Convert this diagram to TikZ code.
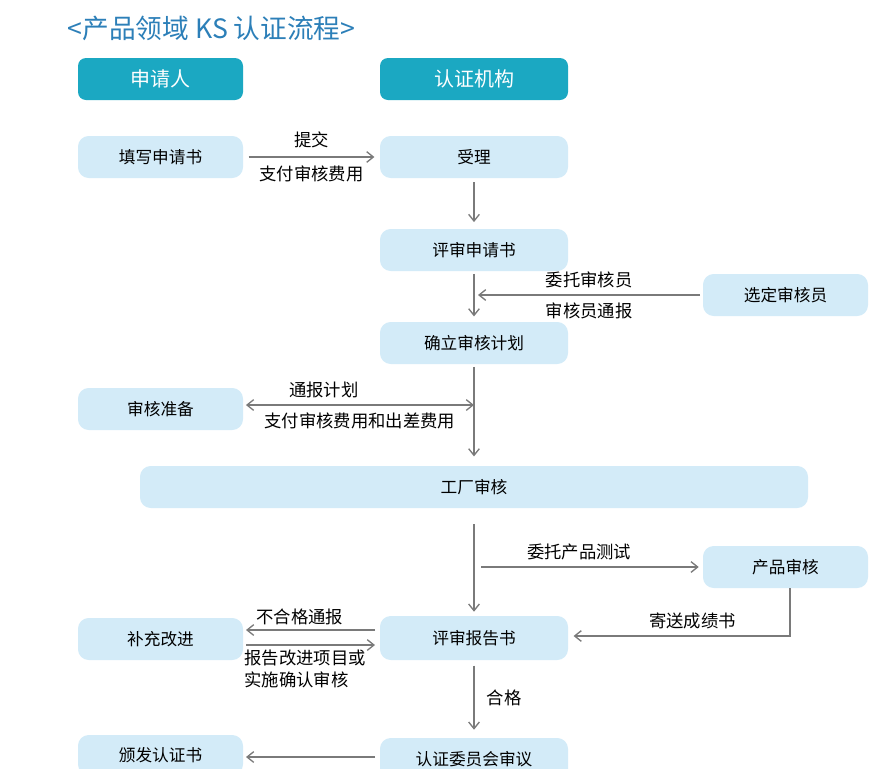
\documentclass[tikz,border=0pt]{standalone}
\usepackage{fontspec}
\setmainfont{Noto Sans CJK SC}
\usetikzlibrary{arrows.meta}
\definecolor{hd}{HTML}{1BA8C2}
\definecolor{bx}{HTML}{D3EBF8}
\definecolor{ln}{HTML}{7A7A7A}
\definecolor{tt}{HTML}{2C7FB8}
\begin{document}
\begin{tikzpicture}[x=0.75pt,y=-0.75pt,
 head/.style={fill=hd,rounded corners=6pt,text=white,font=\fontsize{15}{15}\selectfont,inner sep=0},
 box/.style={fill=bx,rounded corners=8pt,font=\fontsize{12.5}{13}\selectfont,inner sep=0},
 lab/.style={font=\fontsize{13}{17}\selectfont,inner sep=1pt},
 arr/.style={draw=ln,line width=1pt,-{Straight Barb[length=5pt,width=8pt]}}]
\useasboundingbox (0,0) rectangle (892,768);
\node[font=\fontsize{20}{20}\selectfont,text=tt,anchor=west] (title) at (63,28) {<产品领域 KS 认证流程>};
\newcommand\bxn[6]{\node[#1,minimum width=#4*0.75pt,minimum height=#5*0.75pt] (#2) at (#3) {#6};}
\bxn{head}{h1}{160.5,79}{165}{42}{申请人}
\bxn{head}{h2}{474,79}{188}{42}{认证机构}
\bxn{box}{a}{160.5,157}{165}{42}{填写申请书}
\bxn{box}{b}{474,157}{188}{42}{受理}
\bxn{box}{c}{474,250}{188}{42}{评审申请书}
\bxn{box}{d}{785.5,295}{165}{42}{选定审核员}
\bxn{box}{e}{474,343}{188}{42}{确立审核计划}
\bxn{box}{f}{160.5,409}{165}{42}{审核准备}
\bxn{box}{g}{474,487}{668}{42}{工厂审核}
\bxn{box}{p}{785.5,567}{165}{42}{产品审核}
\bxn{box}{r}{474,638}{188}{44}{评审报告书}
\bxn{box}{s}{160.5,639}{165}{42}{补充改进}
\bxn{box}{k}{474,759}{188}{42}{认证委员会审议}
\bxn{box}{i}{160.5,755}{165}{40}{颁发认证书}
\draw[arr] ([xshift=4pt]a.east) -- node[lab,above=5pt]{提交} node[lab,below=5pt]{支付审核费用} ([xshift=-4pt]b.west);
\draw[arr] ([yshift=-3pt]b.south) -- ([yshift=5pt]c.north);
\draw[arr] ([yshift=-2pt]c.south) -- ([yshift=4pt]e.north);
\draw[arr] ([xshift=-2pt]d.west) -- node[lab,above=4pt]{委托审核员} node[lab,below=4pt]{审核员通报} (478,295);
\draw[arr] ([yshift=-2pt]e.south) -- ([yshift=7pt]g.north);
\coordinate (fx) at (474,405);
\draw[draw=ln,line width=1pt,{Straight Barb[length=5pt,width=8pt]}-{Straight Barb[length=5pt,width=8pt]}] ([xshift=2pt]f.east|-fx) -- node[lab,above=4pt,xshift=-27pt]{通报计划} node[lab,below=4pt]{支付审核费用和出差费用} (fx);
\draw[arr] ([yshift=-12pt]g.south) -- ([yshift=3pt]r.north);
\coordinate (w) at (481,567);
\draw[arr] (w) -- node[lab,above=4pt,xshift=-8pt]{委托产品测试} ([xshift=-3pt]p.west);
\coordinate (pc) at (790,636);
\draw[arr] (p.south-|pc) -- (pc) -- node[lab,above=4pt,xshift=8pt]{寄送成绩书} ([xshift=4pt]r.east|-pc);
\coordinate (u1) at (375,630);
\coordinate (u2) at (246,645);
\draw[arr] (u1) -- node[lab,above=2pt,xshift=-8pt]{不合格通报} (u1-|u2);
\draw[arr] (u2) -- (u2-|u1);
\node[lab,anchor=north west,align=left] (note) at (243,648) {报告改进项目或\\实施确认审核};
\draw[arr] ([yshift=-4pt]r.south) -- node[lab,right=8pt]{合格} ([yshift=6pt]k.north);
\coordinate (v) at (375,757);
\draw[arr] (v) -- (v-|246,0);
\end{tikzpicture}
\end{document}
